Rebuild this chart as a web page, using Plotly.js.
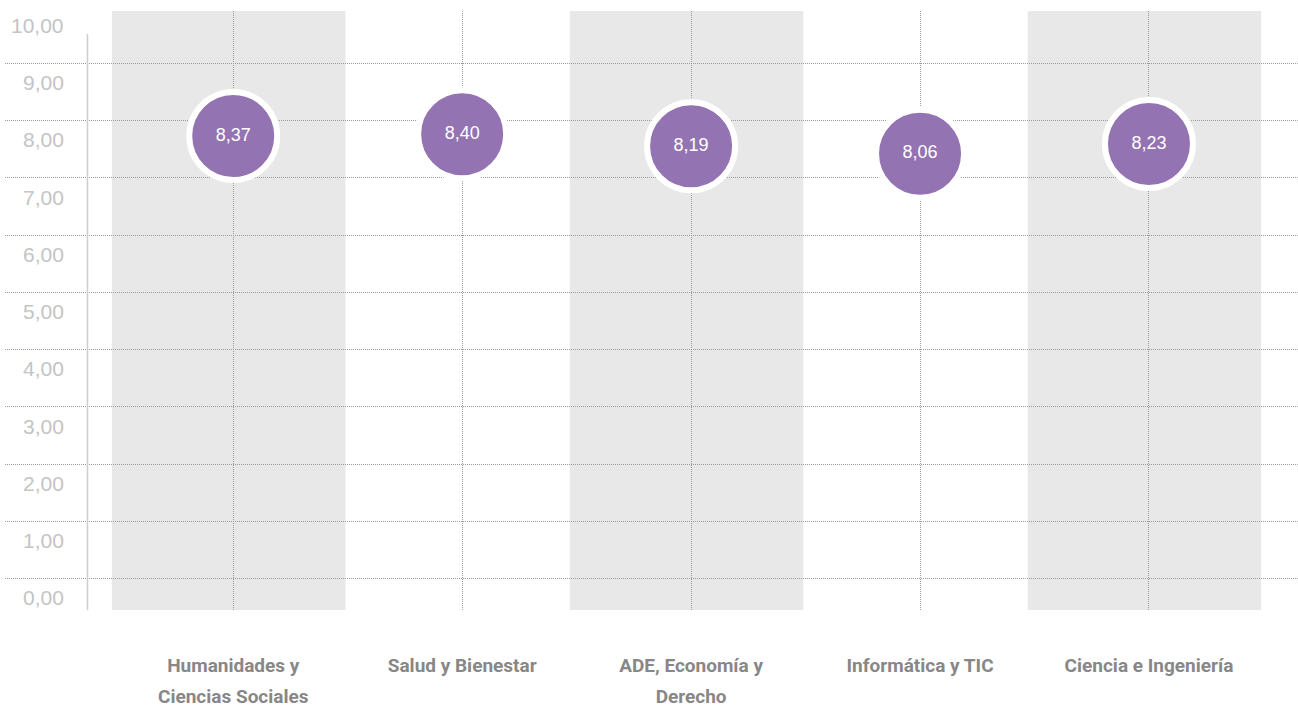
<!DOCTYPE html>
<html><head><meta charset="utf-8">
<script src="https://cdn.plot.ly/plotly-3.0.1.min.js"></script>
<style>html,body{margin:0;padding:0;background:#fff;} #chart{width:1298px;height:708px;}</style>
</head><body><div id="chart"></div>
<script>
const categories = ["Humanidades y Ciencias Sociales", "Salud y Bienestar", "ADE, Economía y Derecho", "Informática y TIC", "Ciencia e Ingeniería"];
const tickLabels = ["Humanidades y<br>Ciencias Sociales", "Salud y Bienestar", "ADE, Economía y<br>Derecho", "Informática y TIC", "Ciencia e Ingeniería"];
const scores = [8.37, 8.40, 8.19, 8.06, 8.23];
const yTickValues = [0, 1, 2, 3, 4, 5, 6, 7, 8, 9, 10];
const shadedCategories = [0, 2, 4];

const idx = categories.map((c, i) => i);
const fmt = v => v.toFixed(2).replace('.', ',');
const gridOffset = 0.34;
const gridColor = '#9a9a9a';
const axisX = 0.0638;

const trace = {
  type: 'scatter', mode: 'markers+text', x: idx, y: scores, yaxis: 'y2',
  text: scores.map(fmt), textposition: 'middle center',
  textfont: {family: '"Liberation Sans", Arial, Helvetica, sans-serif', size: 18, color: '#ffffff'},
  marker: {size: 88, color: '#9373b2', line: {color: '#ffffff', width: 6}},
  hoverinfo: 'skip', cliponaxis: false, showlegend: false
};

const shapes = shadedCategories.map(i => ({
  type: 'rect', xref: 'x', yref: 'paper', x0: i - 0.53, x1: i + 0.49, y0: 0, y1: 1,
  fillcolor: '#e8e8e8', line: {width: 0}, layer: 'below'
}));
shapes.push({type: 'line', xref: 'paper', yref: 'paper', x0: axisX, x1: axisX, y0: 0, y1: 0.9616,
  line: {color: '#cdcdcd', width: 1.5}, layer: 'above'});

const annotations = yTickValues.map(v => ({
  xref: 'paper', yref: 'y', x: axisX, y: v, xshift: -21, xanchor: 'right', yanchor: 'middle',
  text: fmt(v), showarrow: false,
  font: {family: '"Liberation Sans", Arial, Helvetica, sans-serif', size: 21, color: '#c4c4c4'}
}));

const layout = {
  width: 1298, height: 708,
  margin: {l: 5, r: 0, t: 11, b: 98},
  paper_bgcolor: '#ffffff', plot_bgcolor: '#ffffff',
  showlegend: false,
  shapes: shapes,
  annotations: annotations,
  xaxis: {
    range: [-0.997, 4.651], tickmode: 'array', tickvals: idx,
    ticktext: tickLabels.map(t => t.split('<br>').map(s => '<span style="font-size:19px">' + s + '</span>').join('<br>')),
    tickfont: {family: 'Roboto, "Liberation Sans", Arial, sans-serif', size: 24, weight: 'bold', color: '#878787'},
    showgrid: true, gridcolor: gridColor, griddash: '1px,1px', gridwidth: 1,
    zeroline: false, showline: false, ticks: '', ticklabelstandoff: 37, fixedrange: true
  },
  yaxis: {
    range: [-0.21, 10.253],
    tickmode: 'array', tickvals: yTickValues.slice(0, 10).map(v => v + gridOffset),
    showticklabels: false,
    showgrid: true, gridcolor: gridColor, griddash: '1px,1px', gridwidth: 1,
    zeroline: false, showline: false, ticks: '', fixedrange: true
  },
  yaxis2: {overlaying: 'y', range: [0.091, 10.554], visible: false, fixedrange: true}
};

Plotly.newPlot('chart', [trace], layout, {displayModeBar: false, staticPlot: true});
</script>
</body></html>
